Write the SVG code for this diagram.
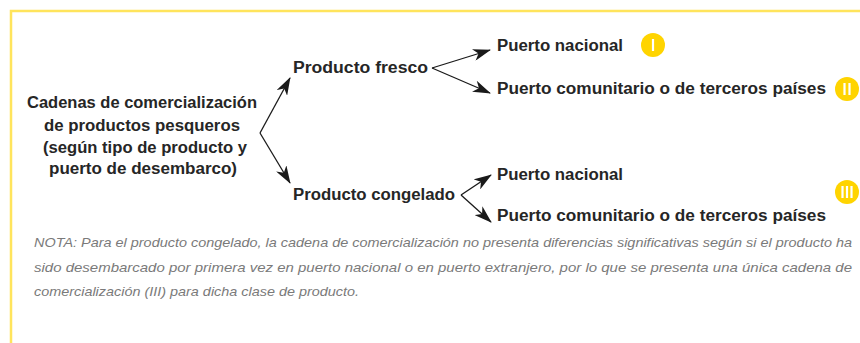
<svg xmlns="http://www.w3.org/2000/svg" width="860" height="343" viewBox="0 0 860 343">
<style>
.t{font-family:"Liberation Sans",Arial,sans-serif;font-weight:bold;font-size:16px;fill:#262626}
.c{stroke:#1a1a1a;stroke-width:1.3;fill:none}
.b{fill:#FFD400}
.bt{stroke:#fff;stroke-width:2.2}
.n{font-family:"Liberation Sans",Arial,sans-serif;font-style:italic;font-size:13px;fill:#7a7a7a}
.frame{stroke:#FFE45C;stroke-width:2.5;fill:none}
</style>
<defs>
<marker id="ah" viewBox="0 0 18 12" refX="17" refY="6" markerWidth="18" markerHeight="12" markerUnits="userSpaceOnUse" orient="auto">
<path d="M0,0 L18,6 L0,12 L5,6 Z" fill="#1a1a1a"/>
</marker>
</defs>
<path class="frame" d="M11,343 V11 H860"/>
<g id="connectors">
<path class="c" d="M260,133 L290,78" marker-end="url(#ah)"/>
<path class="c" d="M260,133 L290,183" marker-end="url(#ah)"/>
<path class="c" d="M432,68 L490,50" marker-end="url(#ah)"/>
<path class="c" d="M432,68 L490,93" marker-end="url(#ah)"/>
<path class="c" d="M461,195 L491,175" marker-end="url(#ah)"/>
<path class="c" d="M461,195 L491,222" marker-end="url(#ah)"/>
</g>
<g id="root">
<text class="t" x="27" y="108" textLength="230" lengthAdjust="spacingAndGlyphs">Cadenas de comercialización</text>
<text class="t" x="44" y="131" textLength="196" lengthAdjust="spacingAndGlyphs">de productos pesqueros</text>
<text class="t" x="43" y="153" textLength="204" lengthAdjust="spacingAndGlyphs">(según tipo de producto y</text>
<text class="t" x="49" y="174" textLength="188" lengthAdjust="spacingAndGlyphs">puerto de desembarco)</text>
</g>
<g id="fresco"><text class="t" x="293" y="73" textLength="135" lengthAdjust="spacingAndGlyphs">Producto fresco</text></g>
<g id="congelado"><text class="t" x="293" y="200" textLength="162" lengthAdjust="spacingAndGlyphs">Producto congelado</text></g>
<g id="fresco-nacional"><text class="t" x="497" y="51" textLength="126" lengthAdjust="spacingAndGlyphs">Puerto nacional</text></g>
<g id="fresco-comunitario"><text class="t" x="497" y="94" textLength="329" lengthAdjust="spacingAndGlyphs">Puerto comunitario o de terceros países</text></g>
<g id="congelado-nacional"><text class="t" x="497" y="180" textLength="126" lengthAdjust="spacingAndGlyphs">Puerto nacional</text></g>
<g id="congelado-comunitario"><text class="t" x="497" y="221" textLength="329" lengthAdjust="spacingAndGlyphs">Puerto comunitario o de terceros países</text></g>
<g id="badge-I">
<circle class="b" cx="653" cy="45" r="12"/>
<path class="bt" d="M653,39 V51"/>
</g>
<g id="badge-II">
<circle class="b" cx="847" cy="89" r="12"/>
<path class="bt" d="M844.5,83 V95 M849.5,83 V95"/>
</g>
<g id="badge-III">
<circle class="b" cx="847" cy="192" r="12"/>
<path class="bt" d="M842.5,186 V198 M847,186 V198 M851.5,186 V198"/>
</g>
<g id="note">
<text class="n" x="34" y="247" textLength="818" lengthAdjust="spacingAndGlyphs">NOTA: Para el producto congelado, la cadena de comercialización no presenta diferencias significativas según si el producto ha</text>
<text class="n" x="34" y="272" textLength="818" lengthAdjust="spacingAndGlyphs">sido desembarcado por primera vez en puerto nacional o en puerto extranjero, por lo que se presenta una única cadena de</text>
<text class="n" x="34" y="296" textLength="325" lengthAdjust="spacingAndGlyphs">comercialización (III) para dicha clase de producto.</text>
</g>
</svg>
